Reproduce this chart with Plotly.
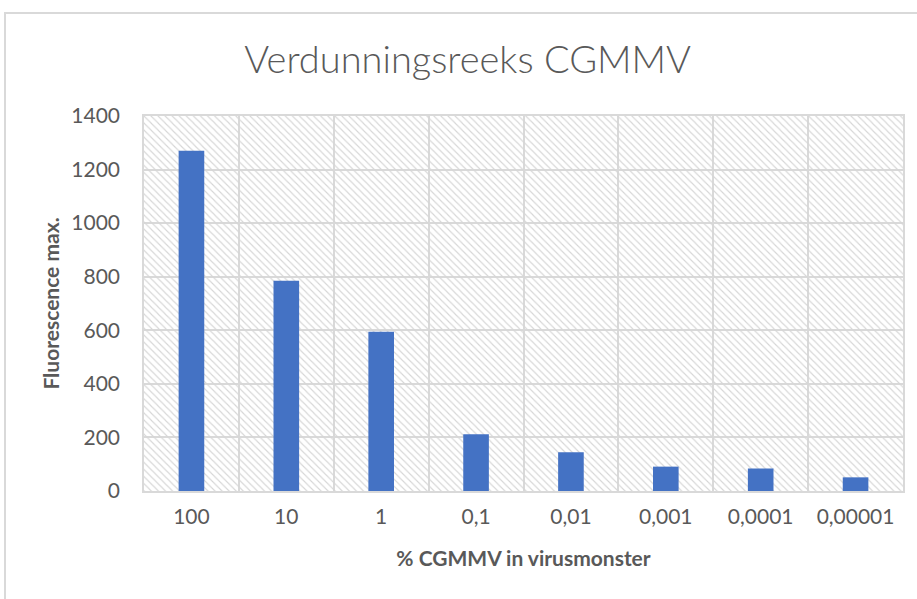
import plotly.graph_objects as go

categories = ["100", "10", "1", "0,1", "0,01", "0,001", "0,0001", "0,00001"]
values = [1270, 785, 595, 212, 145, 91, 84, 51]
y_ticks = [0, 200, 400, 600, 800, 1000, 1200, 1400]

title_text = "Verdunningsreeks CGMMV"
x_title = "% CGMMV in virusmonster"
y_title = "Fluorescence max."

FONT = "Lato"
GREY = "#595959"
GRID = "#d9d9d9"

fig = go.Figure()

# hatched plot-area background (on hidden base axes, drawn beneath the data)
fig.add_trace(go.Bar(
    x=[0.5], y=[1], width=[1], xaxis="x", yaxis="y",
    marker=dict(color="#d6d6d6", line=dict(width=0),
                pattern=dict(shape="\\", size=5, solidity=0.22, fillmode="replace")),
    hoverinfo="skip", showlegend=False,
))

# data bars
fig.add_trace(go.Bar(
    x=categories, y=values, xaxis="x2", yaxis="y2",
    width=0.27, marker=dict(color="#4472C4", line=dict(width=0)),
    showlegend=False,
))

fig.update_layout(
    width=917, height=599,
    margin=dict(l=144, r=14, t=116, b=108),
    paper_bgcolor="white", plot_bgcolor="white",
    title=dict(text=title_text, x=0.51, xanchor="center", xref="container",
               y=0.9, yanchor="middle", yref="container",
               font=dict(family=FONT, size=38, color=GREY, weight=300)),
    xaxis=dict(range=[0, 1], visible=False, fixedrange=True),
    yaxis=dict(range=[0, 1], visible=False, fixedrange=True),
    xaxis2=dict(overlaying="x", type="category", tickson="boundaries",
                showgrid=True, gridcolor=GRID, gridwidth=1.5,
                showline=True, linecolor=GRID, linewidth=2, mirror=True,
                ticks="", range=[-0.5, 7.5], ticklabelstandoff=6,
                tickfont=dict(family=FONT, size=21, color=GREY),
                title=dict(text=x_title, standoff=24,
                           font=dict(family=FONT, size=21, color=GREY, weight="bold"))),
    yaxis2=dict(overlaying="y", range=[0, 1400], tickvals=y_ticks,
                showgrid=True, gridcolor=GRID, gridwidth=1.5,
                showline=True, linecolor=GRID, linewidth=1.5, mirror=True,
                zeroline=False, ticks="", ticklabelstandoff=18,
                tickfont=dict(family=FONT, size=21, color=GREY),
                title=dict(text=y_title, standoff=6,
                           font=dict(family=FONT, size=21, color=GREY, weight="bold"))),
    shapes=[dict(type="rect", xref="paper", yref="paper",
                 x0=(5 - 144) / 759, x1=(930 - 144) / 759,
                 y0=(491 - 620) / 375, y1=(491 - 13) / 375,
                 line=dict(color=GRID, width=2), fillcolor="rgba(0,0,0,0)",
                 layer="below")],
)

fig.write_html("out.html", config={"displayModeBar": False},
               post_script="document.body.style.margin='0';document.body.style.overflow='hidden';")
